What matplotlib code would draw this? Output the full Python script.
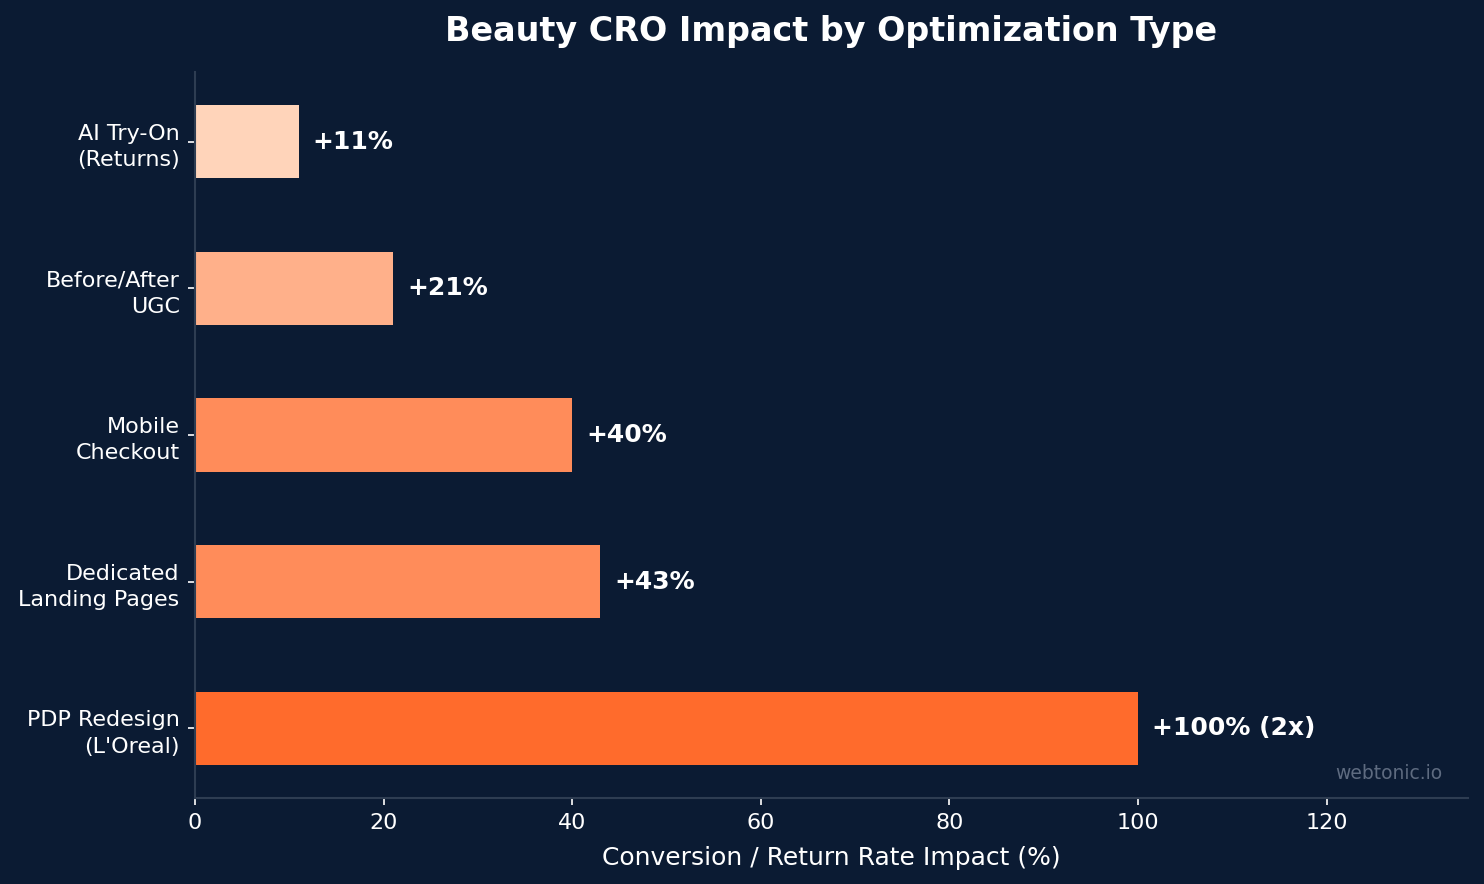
import matplotlib.pyplot as plt

# Data (bottom to top as drawn)
labels = ["PDP Redesign\n(L'Oreal)", "Dedicated\nLanding Pages", "Mobile\nCheckout",
          "Before/After\nUGC", "AI Try-On\n(Returns)"]
values = [100, 43, 40, 21, 11]
value_text = ["+100% (2x)", "+43%", "+40%", "+21%", "+11%"]
colors = ["#FF6B2C", "#FF8C5A", "#FF8C5A", "#FFB08A", "#FFD4BA"]

bg = "#0B1B33"
spine = "#2E3D52"

fig, ax = plt.subplots(figsize=(14.84, 8.84), dpi=100)
fig.patch.set_facecolor(bg)
ax.set_facecolor(bg)

ax.barh(labels, values, color=colors, height=0.5)

for i, (v, t) in enumerate(zip(values, value_text)):
    ax.text(v + 1.5, i, t, va="center", ha="left", color="white",
            fontsize=18, fontweight="bold")

ax.set_xlim(0, max(values) * 1.35)
ax.set_title("Beauty CRO Impact by Optimization Type", color="white",
             fontsize=24, fontweight="bold", pad=22)
ax.set_xlabel("Conversion / Return Rate Impact (%)", color="white", fontsize=18,
              labelpad=9)
ax.tick_params(colors="white", labelsize=16, pad=6, length=5, width=1.2)
for lbl in ax.get_yticklabels():
    lbl.set_linespacing(1.4)

for s in ["top", "right"]:
    ax.spines[s].set_visible(False)
for s in ["left", "bottom"]:
    ax.spines[s].set_color(spine)
    ax.spines[s].set_linewidth(1.5)

ax.text(0.98, 0.02, "webtonic.io", transform=ax.transAxes, ha="right", va="bottom",
        color="#5E6B80", fontsize=13.5)

plt.subplots_adjust(left=0.1314, right=0.9892, top=0.9186, bottom=0.0973)
plt.savefig("out.png", dpi=100, facecolor=bg)
